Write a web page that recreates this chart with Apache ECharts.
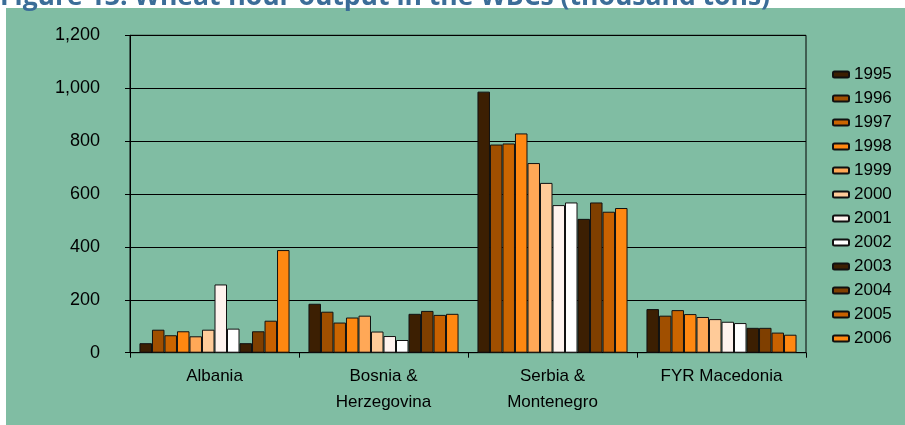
<!DOCTYPE html>
<html>
<head>
<meta charset="utf-8">
<script src="https://cdn.jsdelivr.net/npm/echarts@6/dist/echarts.min.js"></script>
<style>
  html, body { margin: 0; padding: 0; background: #ffffff; }
  #chart { width: 905px; height: 425px; }
</style>
</head>
<body>
<div id="chart"></div>
<script>
// Wheat flour output by country and year (thousand tons)
const categories = ['Albania', 'Bosnia &\nHerzegovina', 'Serbia &\nMontenegro', 'FYR Macedonia'];
const years = ['1995', '1996', '1997', '1998', '1999', '2000', '2001', '2002', '2003', '2004', '2005', '2006'];

const y1995 = [36, 185, 987, 165];
const y1996 = [87, 155, 787, 140];
const y1997 = [66, 114, 791, 161];
const y1998 = [81, 133, 829, 146];
const y1999 = [62, 140, 717, 135];
const y2000 = [87, 80, 642, 127];
const y2001 = [258, 63, 558, 117];
const y2002 = [91, 48, 568, 112];
const y2003 = [36, 147, 506, 94];
const y2004 = [81, 158, 568, 94];
const y2005 = [121, 143, 533, 76];
const y2006 = [388, 147, 547, 68];

const yearValues = [y1995, y1996, y1997, y1998, y1999, y2000, y2001, y2002, y2003, y2004, y2005, y2006];

const yearColors = ['#3c1f02', '#a04f00', '#cb6500', '#ff8811', '#ffa857', '#ffcb99',
                    '#fff3ee', '#ffffff', '#3c1f02', '#7f3f00', '#c86100', '#ff8811'];

const yTicks = { min: 0, max: 1200, interval: 200 };

const FONT = '"Liberation Sans", Arial, sans-serif';

const chart = echarts.init(document.getElementById('chart'), null, { renderer: 'canvas' });

const series = years.map((yr, i) => ({
  name: yr,
  type: 'bar',
  data: yearValues[i],
  barGap: '0%',
  barCategoryGap: '11.2%',
  itemStyle: {
    color: yearColors[i],
    borderColor: '#111',
    borderWidth: 1
  },
  emphasis: { disabled: true },
  animation: false
}));

chart.setOption({
  animation: false,
  graphic: [
    {
      type: 'rect',
      z: -10,
      silent: true,
      shape: { x: 6, y: 8, width: 899, height: 417 },
      style: { fill: '#80bda3' }
    },
    {
      type: 'text',
      silent: true,
      style: {
        text: 'Figure 13: Wheat flour output in the WBCs (thousand tons)',
        x: 0,
        y: 10,
        verticalAlign: 'bottom',
        fill: '#3b6d98',
        font: 'bold 26.5px "Open Sans", "Liberation Sans", sans-serif',
        lineHeight: 26
      }
    }
  ],
  grid: {
    left: 130,
    right: 99,
    top: 35.3,
    bottom: 72.3,
    show: true,
    borderColor: '#000',
    borderWidth: 1,
    backgroundColor: 'transparent'
  },
  legend: {
    orient: 'vertical',
    left: 827,
    top: 61,
    itemWidth: 16,
    itemHeight: 6,
    itemGap: 7,
    selectedMode: false,
    data: years,
    textStyle: {
      fontFamily: FONT,
      fontSize: 17,
      lineHeight: 17,
      color: '#000'
    }
  },
  xAxis: {
    type: 'category',
    data: categories,
    boundaryGap: true,
    axisLine: { lineStyle: { color: '#000', width: 1 } },
    axisTick: { show: true, length: 5, inside: false, lineStyle: { color: '#000' } },
    axisLabel: {
      margin: 11,
      fontFamily: FONT,
      fontSize: 17,
      lineHeight: 26,
      color: '#000'
    },
    splitLine: { show: false }
  },
  yAxis: {
    type: 'value',
    min: yTicks.min,
    max: yTicks.max,
    interval: yTicks.interval,
    axisLine: { show: true, lineStyle: { color: '#000', width: 1 } },
    axisTick: { show: true, length: 5, lineStyle: { color: '#000' } },
    axisLabel: {
      margin: 30,
      fontFamily: FONT,
      fontSize: 18,
      color: '#000',
      formatter: v => v.toLocaleString('en-US')
    },
    splitLine: { show: true, lineStyle: { color: '#000', width: 1 } }
  },
  series: series
});
</script>
</body>
</html>
